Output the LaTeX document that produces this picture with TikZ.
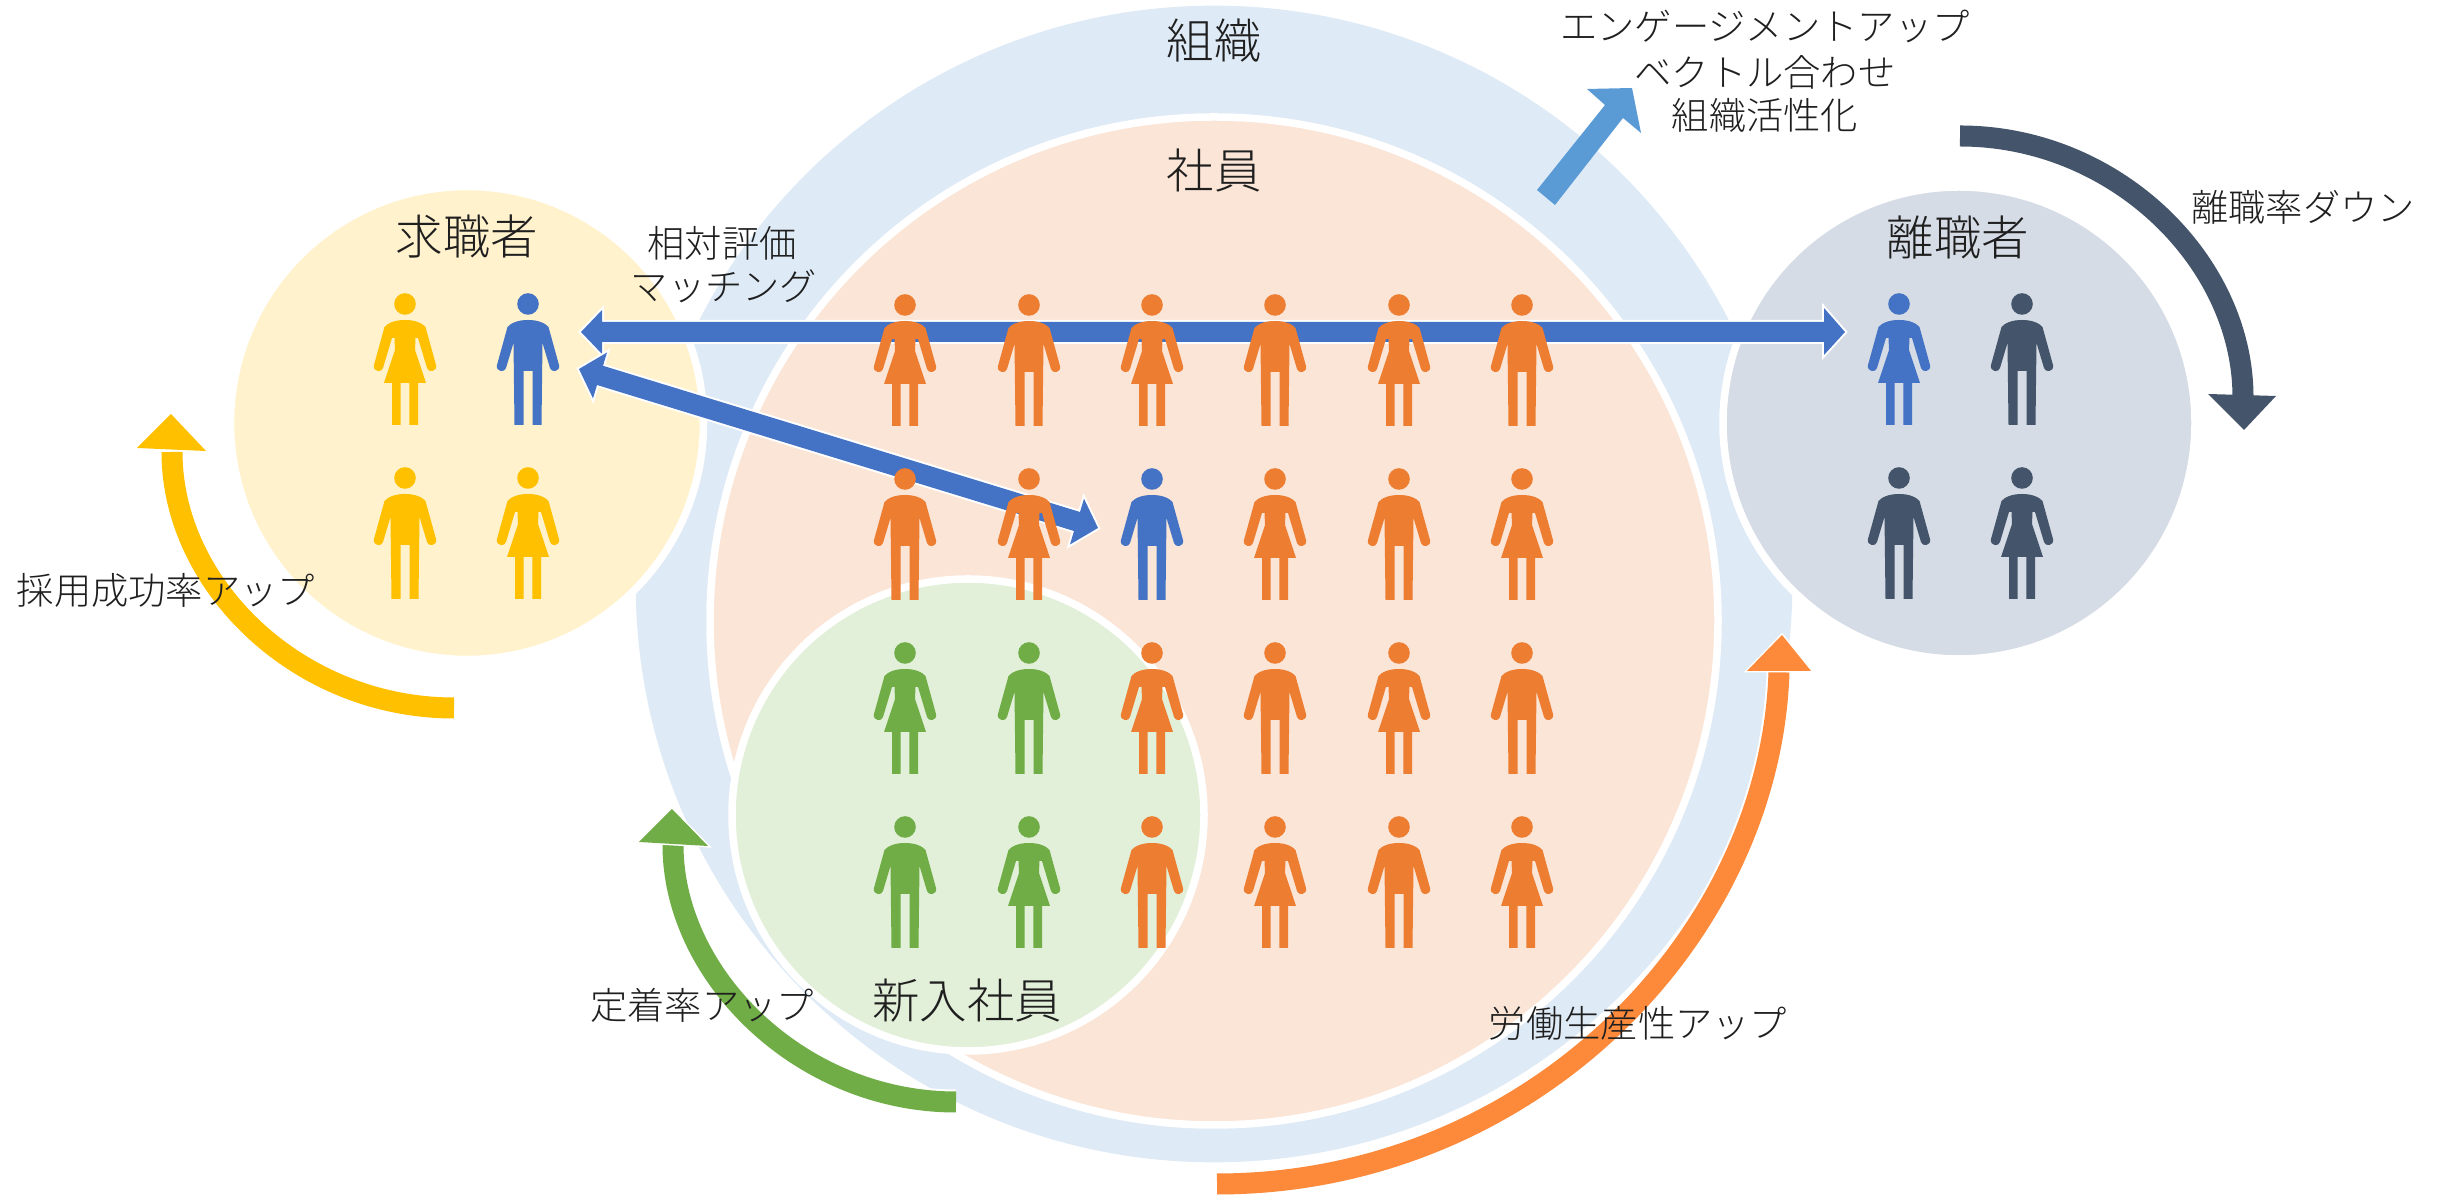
\documentclass[tikz,border=0pt]{standalone}
\usepackage{fontspec}
\setmainfont{Noto Sans CJK JP Light}
\definecolor{cOrg}{HTML}{DEEAF6}
\definecolor{cEmp}{HTML}{FBE5D7}
\definecolor{cNew}{HTML}{E2F0D9}
\definecolor{cCand}{HTML}{FFF2CC}
\definecolor{cLeft}{HTML}{D6DCE5}
\definecolor{pOrange}{HTML}{ED7D31}
\definecolor{pBlue}{HTML}{4472C4}
\definecolor{pGreen}{HTML}{70AD47}
\definecolor{pYellow}{HTML}{FFC000}
\definecolor{pNavy}{HTML}{44546A}
\definecolor{aOrange}{HTML}{FD8A3A}
\definecolor{aSky}{HTML}{5B9BD5}
\definecolor{ink}{HTML}{1F1F1F}
\tikzset{
  ring/.style={circle,draw=white,line width=.075cm,minimum size=#1*.01cm,inner sep=0pt,outer sep=0pt},
  ptitle/.style={text=ink,font=\fontsize{13.5pt}{16pt}\selectfont,inner sep=0pt},
  plabel/.style={text=ink,font=\fontsize{10.6pt}{13pt}\selectfont,inner sep=0pt},
  curve/.style={line width=.21cm,draw=#1,line cap=butt},
  halo/.style={line width=.25cm,draw=white,line cap=butt},
  headtip/.style={fill=#1},
  haloed/.style={fill=#1,preaction={draw=white,line width=.03cm,miter limit=10}},
  shaft/.style={fill=pBlue,preaction={draw=white,line width=.04cm,miter limit=10}},
  pics/man/.style={code={
    \path[pic actions] (0,0) circle (10.8);
    \path[pic actions] (0,16) .. controls (-10,16) and (-17,19) .. (-20.5,23) -- (-31,61)
      .. controls (-32.5,68) and (-23,69) .. (-22,64) -- (-14.5,39) -- (-13.5,121) -- (-4.5,121) -- (-4.5,67)
      -- (4.5,67) -- (4.5,121) -- (13.5,121) -- (14.5,39) -- (22,64)
      .. controls (23,69) and (32.5,68) .. (31,61) -- (20.5,23) .. controls (17,19) and (10,16) .. (0,16) -- cycle;
  }},
  pics/woman/.style={code={
    \path[pic actions] (0,0) circle (10.8);
    \path[pic actions] (0,16) .. controls (-10,16) and (-17,19) .. (-20.5,23) -- (-31,61)
      .. controls (-32.5,68) and (-23,69) .. (-22,64) -- (-13,34) -- (-10.5,34) -- (-10,46) -- (-21,79)
      -- (-13,79) -- (-13,121) -- (-4.3,121) -- (-4.3,79) -- (4.3,79) -- (4.3,121) -- (13,121) -- (13,79) -- (21,79)
      -- (10,46) -- (10.5,34) -- (13,34) -- (22,64)
      .. controls (23,69) and (32.5,68) .. (31,61) -- (20.5,23) .. controls (17,19) and (10,16) .. (0,16) -- cycle;
  }},
  person/.style={fill=#1,preaction={draw=white,line width=.04cm,miter limit=10}}
}
\begin{document}
\begin{tikzpicture}[x=.01cm,y=-.01cm]
\useasboundingbox (0,0) rectangle (2441,1195);
% circles
\node[circle,fill=cOrg,minimum size=11.56cm,inner sep=0pt] (org) at (1214,584) {};
\node[ring=1008,fill=cEmp] (emp) at (1214,621) {};
\node[ring=473,fill=cCand] (cand) at (467,423) {};
\node[ring=472,fill=cLeft] (left) at (1959,423) {};
\node[ring=472,fill=cNew] (new) at (968,815) {};
% curved arrows
\coordinate (yA) at (454,708); \coordinate (yB) at (172,452);
\draw[curve=pYellow] (yA) .. controls (298,708) and (172,585) .. (yB);
\path[headtip=pYellow] (137,448) -- (171,414) -- (206,451) -- cycle;
\coordinate (nA) at (1960,136); \coordinate (nB) at (2243,397);
\draw[curve=pNavy] (nA) .. controls (2116,136) and (2243,262) .. (nB);
\path[headtip=pNavy] (2208,394) -- (2244,430) -- (2276,396) -- cycle;
\coordinate (gA) at (956,1102); \coordinate (gB) at (673,845);
\draw[halo] (gA) .. controls (800,1102) and (673,975) .. (gB);
\draw[curve=pGreen] (gA) .. controls (800,1102) and (673,975) .. (gB);
\path[haloed=pGreen] (639,842) -- (672,809) -- (708,846) -- cycle;
\coordinate (oA) at (1217,1184); \coordinate (oB) at (1779,672);
\draw[halo] (oA) .. controls (1527,1184) and (1770,940) .. (oB);
\draw[curve=aOrange] (oA) .. controls (1527,1184) and (1770,940) .. (oB);
\path[haloed=aOrange] (1747,671) -- (1782,635) -- (1811,671) -- cycle;
% straight arrows
\path[fill=aSky] (1537,190) -- (1605,105) -- (1587,89) -- (1632,88) -- (1641,133) -- (1623,118) -- (1555,205) -- cycle;
\path[shaft] (581,332) -- (602,310) -- (602,322) -- (1824,322) -- (1824,308) -- (1845,332) -- (1824,355) -- (1824,342) -- (602,342) -- (602,354) -- cycle;
\path[shaft] (579,369) -- (607,352.5) -- (603,365.8) -- (1080,512) -- (1084,498.7) -- (1098,528) -- (1070,544.5) -- (1074,531) -- (597,385) -- (593,398.4) -- cycle;
% people
\pic[person=pYellow] at (405,304) {woman};
\pic[person=pBlue] at (528,304) {man};
\pic[person=pYellow] at (405,478) {man};
\pic[person=pYellow] at (528,478) {woman};
\pic[person=pBlue] at (1899,304) {woman};
\pic[person=pNavy] at (2022,304) {man};
\pic[person=pNavy] at (1899,478) {man};
\pic[person=pNavy] at (2022,478) {woman};
\foreach \x/\k in {905/woman,1029/man,1152/woman,1275/man,1399/woman,1522/man}
  \pic[person=pOrange] at (\x,305) {\k};
\foreach \x/\k/\c in {905/man/pOrange,1029/woman/pOrange,1152/man/pBlue,1275/woman/pOrange,1399/man/pOrange,1522/woman/pOrange}
  \pic[person=\c] at (\x,479) {\k};
\foreach \x/\k/\c in {905/woman/pGreen,1029/man/pGreen,1152/woman/pOrange,1275/man/pOrange,1399/woman/pOrange,1522/man/pOrange}
  \pic[person=\c] at (\x,653) {\k};
\foreach \x/\k/\c in {905/man/pGreen,1029/woman/pGreen,1152/man/pOrange,1275/woman/pOrange,1399/man/pOrange,1522/woman/pOrange}
  \pic[person=\c] at (\x,827) {\k};
% labels
\node[ptitle] (t1) at (1214,41) {組織};
\node[ptitle] (t2) at (1214,170) {社員};
\node[ptitle] (t3) at (467,237) {求職者};
\node[ptitle] (t4) at (1958,237) {離職者};
\node[ptitle] (t5) at (967,1001) {新入社員};
\node[plabel] (l1) at (722,243) {相対評価};
\node[plabel] (l2) at (724,286) {マッチング};
\node[plabel] (l3) at (1765,26) {エンゲージメントアップ};
\node[plabel] (l4) at (1765,72) {ベクトル合わせ};
\node[plabel] (l5) at (1765,115) {組織活性化};
\node[plabel] (l6) at (2303,207) {離職率ダウン};
\node[plabel] (l7) at (166,590) {採用成功率アップ};
\node[plabel] (l8) at (702,1005) {定着率アップ};
\node[plabel] (l9) at (1638,1023) {労働生産性アップ};
\end{tikzpicture}
\end{document}
